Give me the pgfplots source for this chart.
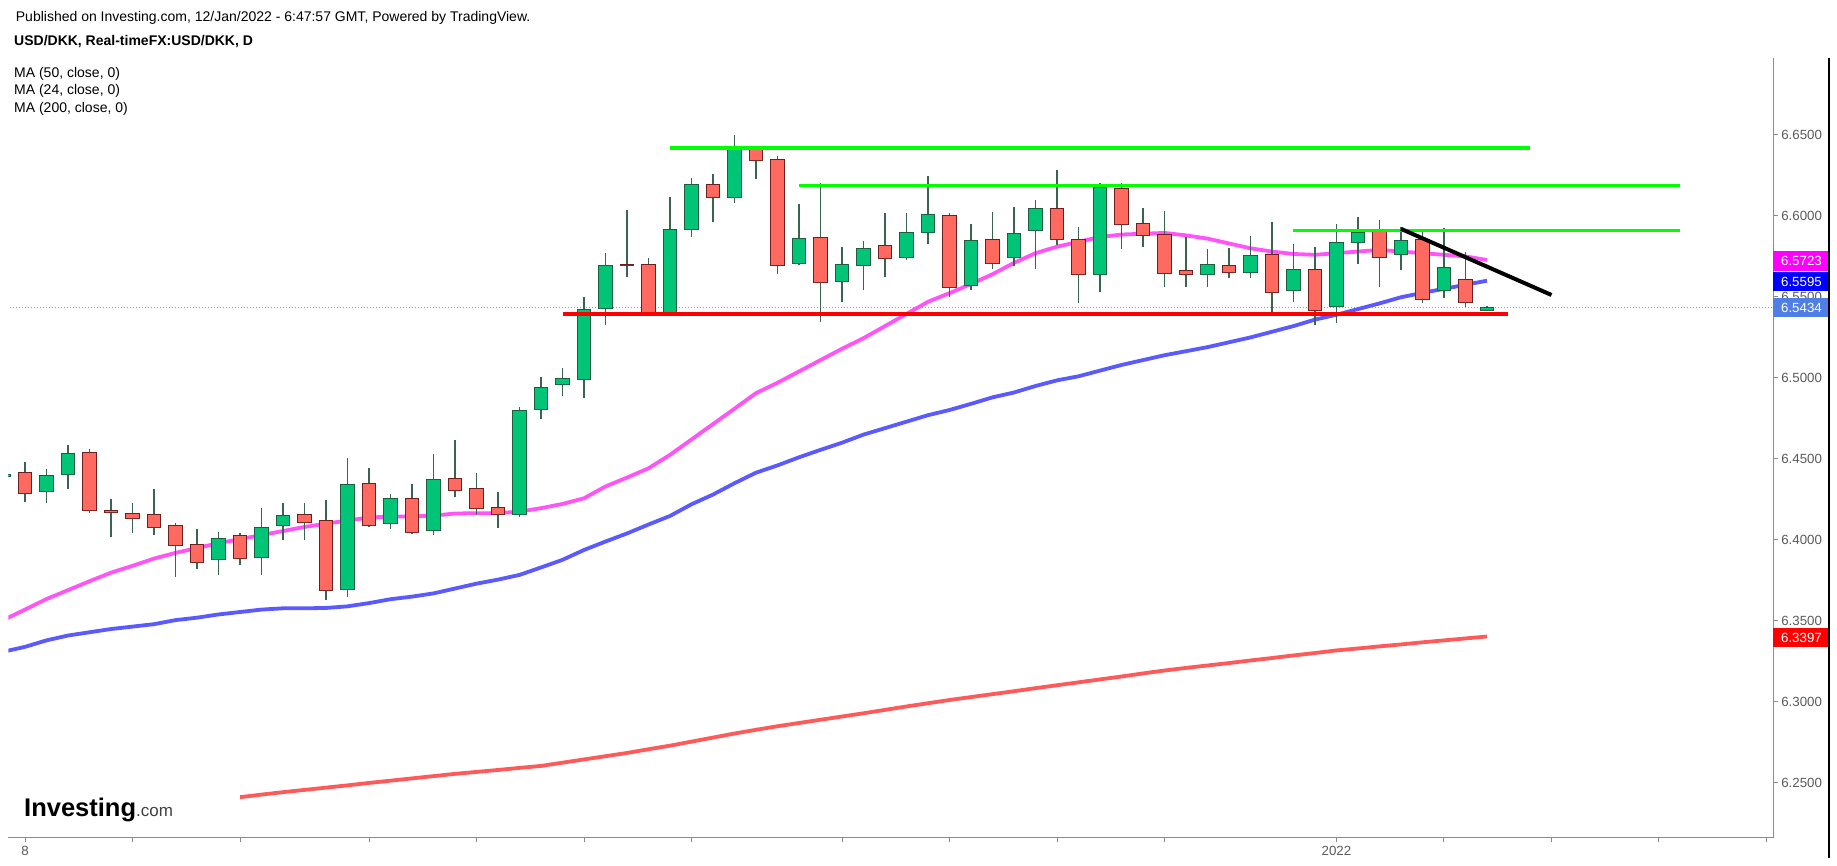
\documentclass[border=0pt]{standalone}
\usepackage{pgfplots}
\pgfplotsset{compat=1.18}
\usepackage{pgfplotstable}
\usepgfplotslibrary{statistics}
\usepackage{fontspec}
\setmainfont{Liberation Sans}
\definecolor{gfill}{HTML}{00C576}
\definecolor{gdark}{HTML}{1E5E40}
\definecolor{rfill}{HTML}{FF6A60}
\definecolor{rdark}{HTML}{6E1E1E}
\definecolor{wick}{HTML}{3B6450}
\definecolor{ma24}{HTML}{FF55F8}
\definecolor{ma50}{HTML}{5A5AFF}
\definecolor{ma200}{HTML}{FF5A5A}
\definecolor{lvgreen}{HTML}{00FF00}
\definecolor{lvred}{HTML}{FF0000}
\definecolor{axgrey}{HTML}{8C8C8C}
\definecolor{txgrey}{HTML}{5A5A5A}
\definecolor{lastblue}{HTML}{4F7FE6}
\definecolor{dotblue}{HTML}{7F9CE8}
\definecolor{labmag}{HTML}{FF00FF}
\definecolor{labblue}{HTML}{0000FF}
\definecolor{labred}{HTML}{FF0000}
\definecolor{logoorange}{HTML}{F7A21B}

% green candles: I = bar index, L = low, B = open, T = close, H = high
\pgfplotstableread{
I L B T H
0 6.4385 6.4390 6.4405 6.4410
2 6.4230 6.4302 6.4395 6.4436
3 6.4313 6.4401 6.4535 6.4586
10 6.3784 6.3881 6.4010 6.4051
12 6.3784 6.3893 6.4078 6.4196
13 6.4000 6.4086 6.4148 6.4226
16 6.3646 6.3691 6.4340 6.4504
18 6.4068 6.4103 6.4257 6.4282
20 6.4031 6.4058 6.4370 6.4529
24 6.4144 6.4154 6.4796 6.4819
25 6.4747 6.4803 6.4942 6.5008
26 6.4891 6.4957 6.4998 6.5060
27 6.4879 6.4988 6.5420 6.5502
28 6.5327 6.5430 6.5693 6.5770
31 6.5389 6.5405 6.5918 6.6119
32 6.5872 6.5914 6.6193 6.6232
34 6.6082 6.6115 6.6412 6.6500
37 6.5700 6.5704 6.5862 6.6072
39 6.5471 6.5597 6.5700 6.5811
40 6.5543 6.5691 6.5800 6.5848
42 6.5728 6.5745 6.5899 6.6016
43 6.5827 6.5899 6.6008 6.6249
45 6.5543 6.5568 6.5846 6.5949
47 6.5693 6.5745 6.5893 6.6058
48 6.5673 6.5907 6.6047 6.6099
51 6.5533 6.5636 6.6177 6.6206
56 6.5564 6.5636 6.5702 6.5796
58 6.5619 6.5652 6.5755 6.5879
60 6.5471 6.5537 6.5671 6.5825
62 6.5342 6.5440 6.5837 6.5949
63 6.5704 6.5837 6.5899 6.5996
65 6.5667 6.5763 6.5846 6.5934
67 6.5492 6.5539 6.5683 6.5924
69 6.5414 6.5418 6.5436 6.5442
}\tabG

% red candles: I = bar index, L = low, B = close, T = open, H = high
\pgfplotstableread{
I L B T H
1 6.4237 6.4288 6.4418 6.4484
4 6.4169 6.4179 6.4541 6.4560
5 6.4016 6.4171 6.4181 6.4253
6 6.4045 6.4134 6.4165 6.4226
7 6.4031 6.4078 6.4158 6.4313
8 6.3774 6.3963 6.4086 6.4103
9 6.3821 6.3862 6.3973 6.4068
11 6.3846 6.3887 6.4025 6.4041
14 6.4000 6.4109 6.4158 6.4226
15 6.3630 6.3685 6.4117 6.4247
17 6.4082 6.4086 6.4350 6.4442
19 6.4037 6.4047 6.4257 6.4346
21 6.4268 6.4303 6.4379 6.4617
22 6.4154 6.4193 6.4317 6.4412
23 6.4076 6.4158 6.4202 6.4298
29 6.5626 6.5691 6.5702 6.6037
30 6.5389 6.5405 6.5702 6.5739
33 6.5965 6.6115 6.6193 6.6257
35 6.6228 6.6340 6.6418 6.6420
36 6.5642 6.5691 6.6350 6.6372
38 6.5344 6.5591 6.5868 6.6202
41 6.5621 6.5737 6.5815 6.6016
44 6.5498 6.5560 6.6000 6.6016
46 6.5673 6.5704 6.5856 6.6027
49 6.5821 6.5852 6.6047 6.6284
50 6.5465 6.5636 6.5856 6.5934
52 6.5796 6.5944 6.6171 6.6206
53 6.5807 6.5877 6.5955 6.6047
54 6.5564 6.5646 6.5883 6.6031
55 6.5564 6.5636 6.5663 6.5872
57 6.5619 6.5652 6.5693 6.5800
59 6.5409 6.5529 6.5763 6.5965
61 6.5327 6.5414 6.5671 6.5811
64 6.5564 6.5745 6.5909 6.5975
66 6.5465 6.5486 6.5856 6.5903
68 6.5440 6.5467 6.5609 6.5780
}\tabR

% moving averages: A = MA(24), B = MA(50)
\pgfplotstableread{
I A B
0 6.3506 6.3310
1 6.3570 6.3340
2 6.3635 6.3380
3 6.3690 6.3410
4 6.3745 6.3430
5 6.3798 6.3450
6 6.3840 6.3465
7 6.3885 6.3480
8 6.3920 6.3505
9 6.3950 6.3520
10 6.3980 6.3540
11 6.4005 6.3555
12 6.4030 6.3570
13 6.4055 6.3578
14 6.4080 6.3578
15 6.4100 6.3580
16 6.4120 6.3590
17 6.4138 6.3610
18 6.4145 6.3634
19 6.4145 6.3650
20 6.4150 6.3670
21 6.4163 6.3700
22 6.4165 6.3730
23 6.4165 6.3755
24 6.4175 6.3784
25 6.4196 6.3830
26 6.4222 6.3877
27 6.4257 6.3938
28 6.4330 6.3990
29 6.4385 6.4040
30 6.4442 6.4095
31 6.4525 6.4148
32 6.4620 6.4220
33 6.4715 6.4280
34 6.4810 6.4350
35 6.4906 6.4415
36 6.4970 6.4460
37 6.5040 6.4510
38 6.5110 6.4556
39 6.5180 6.4600
40 6.5245 6.4650
41 6.5320 6.4690
42 6.5395 6.4730
43 6.5470 6.4770
44 6.5523 6.4802
45 6.5580 6.4840
46 6.5640 6.4880
47 6.5710 6.4910
48 6.5770 6.4950
49 6.5810 6.4985
50 6.5840 6.5010
51 6.5870 6.5045
52 6.5885 6.5080
53 6.5890 6.5110
54 6.5895 6.5140
55 6.5880 6.5165
56 6.5860 6.5190
57 6.5830 6.5220
58 6.5800 6.5250
59 6.5780 6.5285
60 6.5765 6.5320
61 6.5760 6.5360
62 6.5770 6.5390
63 6.5780 6.5425
64 6.5790 6.5460
65 6.5780 6.5498
66 6.5770 6.5525
67 6.5760 6.5550
68 6.5750 6.5575
69 6.5728 6.5600
}\tabMA

% MA(200)
\pgfplotstableread{
I C
11 6.2412
12 6.2428
13 6.2443
14 6.2457
15 6.2471
16 6.2485
17 6.2500
18 6.2514
19 6.2528
20 6.2542
21 6.2556
22 6.2568
23 6.2580
24 6.2593
25 6.2605
26 6.2625
27 6.2645
28 6.2665
29 6.2685
30 6.2708
31 6.2730
32 6.2755
33 6.2780
34 6.2805
35 6.2828
36 6.2850
37 6.2870
38 6.2890
39 6.2910
40 6.2930
41 6.2951
42 6.2972
43 6.2992
44 6.3012
45 6.3030
46 6.3048
47 6.3066
48 6.3085
49 6.3103
50 6.3121
51 6.3139
52 6.3157
53 6.3176
54 6.3194
55 6.3210
56 6.3225
57 6.3240
58 6.3256
59 6.3271
60 6.3287
61 6.3302
62 6.3318
63 6.3330
64 6.3343
65 6.3355
66 6.3368
67 6.3380
68 6.3392
69 6.3404
}\tabMAc

\pgfplotsset{
  candleG/.style={draw=gdark, fill=gfill, line width=1pt,
    boxplot/every box/.style={draw=gdark, fill=gfill, line width=1pt},
    boxplot/every whisker/.style={draw=wick, line width=1.3pt},
    boxplot/every median/.style={draw=none}},
  candleR/.style={draw=rdark, fill=rfill, line width=1pt,
    boxplot/every box/.style={draw=rdark, fill=rfill, line width=1pt},
    boxplot/every whisker/.style={draw=wick, line width=1.3pt},
    boxplot/every median/.style={draw=none}},
}

% draws row #2 of table #1 as one candle with style #3
\newcommand\candle[3]{%
  \pgfplotstablegetelem{#2}{I}\of#1\let\cI\pgfplotsretval
  \pgfplotstablegetelem{#2}{L}\of#1\let\cL\pgfplotsretval
  \pgfplotstablegetelem{#2}{B}\of#1\let\cB\pgfplotsretval
  \pgfplotstablegetelem{#2}{T}\of#1\let\cT\pgfplotsretval
  \pgfplotstablegetelem{#2}{H}\of#1\let\cH\pgfplotsretval
  \edef\doplot{\noexpand\addplot[#3, boxplot prepared={draw position=\cI, lower whisker=\cL, lower quartile=\cB, median=\cB, upper quartile=\cT, upper whisker=\cH}] coordinates {};}%
  \doplot
}

\begin{document}
\begin{tikzpicture}
\useasboundingbox (0pt,0pt) rectangle (1837pt,866pt);
\begin{axis}[
  at={(8.3pt,28.3pt)}, anchor=south west,
  scale only axis, width=1765pt, height=779.4pt,
  xmin=0.223, xmax=82.316, ymin=6.2162, ymax=6.6973,
  axis x line*=bottom, axis y line*=right,
  axis line style={draw=axgrey, line width=1.3pt, -},
  tick align=outside, major tick length=4.5pt,
  tick style={draw=axgrey, line width=1pt},
  xtick={1,6,11,17,22,27,32,39,44,49,54,62,67,72,77,82},
  xticklabels={8,{},{},{},{},{},{},{},{},{},{},2022,{},{},{},{}},
  ytick={6.25,6.3,6.35,6.4,6.45,6.5,6.55,6.6,6.65},
  yticklabel style={/pgf/number format/.cd, fixed, fixed zerofill, precision=4, assume math mode=true},
  ticklabel style={font=\fontsize{13.3}{15}\selectfont, text=txgrey},
  clip mode=individual,
  boxplot/draw direction=y,
  boxplot/box extend=0.62,
  boxplot/whisker extend=0,
]
% last price dotted line
\addplot[dotblue, line width=1pt, dash pattern=on 1pt off 2pt] coordinates {(0,6.5434) (83,6.5434)};
% moving averages
\addplot[ma200, line width=3.8pt, line join=round] table[x=I, y=C] {\tabMAc};
\addplot[ma50, line width=3.8pt, line join=round] table[x=I, y=B] {\tabMA};
\addplot[ma24, line width=3.8pt, line join=round] table[x=I, y=A] {\tabMA};
% candles
\pgfplotsinvokeforeach{0,...,33}{\candle{\tabG}{#1}{candleG}}
\pgfplotsinvokeforeach{0,...,35}{\candle{\tabR}{#1}{candleR}}
% drawn levels
\addplot[lvgreen, line width=3.5pt] coordinates {(31,6.6418) (71,6.6418)};
\addplot[lvgreen, line width=3.5pt] coordinates {(37,6.6189) (78,6.6189)};
\addplot[lvgreen, line width=3.5pt] coordinates {(60,6.5909) (78,6.5909)};
\addplot[lvred, line width=3.5pt] coordinates {(26,6.5395) (70,6.5395)};
\addplot[black, line width=4pt] coordinates {(65,6.5920) (72,6.5512)};
% price labels on the scale
\node[fill=labmag, text=white, anchor=west, minimum width=56pt, minimum height=19.5pt, inner sep=0pt, font=\fontsize{13.3}{15}\selectfont] at (axis cs:82.316,6.5723) {6.5723};
\node[fill=labblue, text=white, anchor=west, minimum width=56pt, minimum height=19.5pt, inner sep=0pt, font=\fontsize{13.3}{15}\selectfont] at (axis cs:82.316,6.5595) {6.5595};
\node[fill=lastblue, text=white, anchor=west, minimum width=56pt, minimum height=19.5pt, inner sep=0pt, font=\fontsize{13.3}{15}\selectfont] at (axis cs:82.316,6.5434) {6.5434};
\node[fill=labred, text=white, anchor=west, minimum width=56pt, minimum height=19.5pt, inner sep=0pt, font=\fontsize{13.3}{15}\selectfont] at (axis cs:82.316,6.3397) {6.3397};
\end{axis}
% frame line on the right
\draw[black, line width=1.3pt] (1829pt,8pt) -- (1829pt,808pt);
% header
\node[anchor=base west, inner sep=0pt, font=\fontsize{14}{16}\selectfont] at (15.7pt,844.3pt) {Published on Investing.com, 12/Jan/2022 - 6:47:57 GMT, Powered by TradingView.};
\node[anchor=base west, inner sep=0pt, font=\fontsize{14}{16}\selectfont\bfseries] at (14pt,820pt) {USD/DKK, Real-timeFX:USD/DKK, D};
\node[anchor=base west, inner sep=0pt, font=\fontsize{14}{16}\selectfont] at (14pt,788.3pt) {MA (50, close, 0)};
\node[anchor=base west, inner sep=0pt, font=\fontsize{14}{16}\selectfont] at (14pt,771pt) {MA (24, close, 0)};
\node[anchor=base west, inner sep=0pt, font=\fontsize{14}{16}\selectfont] at (14pt,753.7pt) {MA (200, close, 0)};
% logo
\node[anchor=base west, inner sep=0pt] at (24pt,49.3pt) {{\fontsize{25.5}{27}\selectfont\bfseries Investing}{\fontsize{17}{18}\selectfont\color{darkgray}.com}};
\end{tikzpicture}
\end{document}
